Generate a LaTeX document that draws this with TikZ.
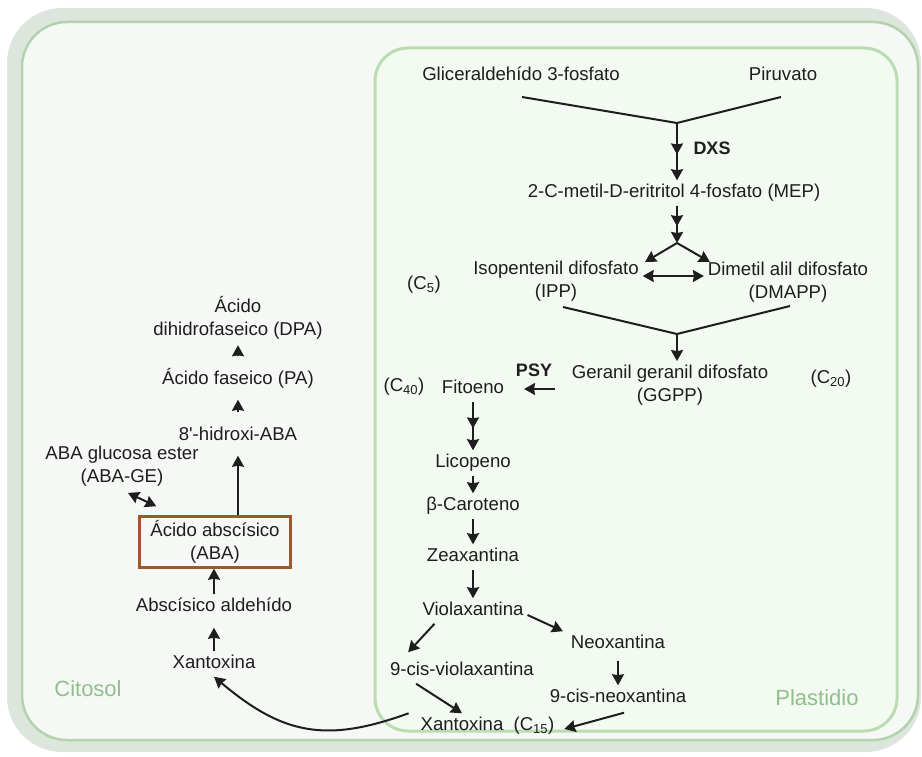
\documentclass[tikz,border=0pt]{standalone}
\usepackage{fontspec}
\setmainfont{Liberation Sans}
\usetikzlibrary{
    arrows.meta,            % Stealth arrow tips.
    decorations.markings,   % Second arrow tip in the middle of a line.
    positioning
}
\definecolor{bandgreen}{HTML}{DCE6DC}
\definecolor{cytofill}{HTML}{F6F8F6}
\definecolor{cytoline}{HTML}{B3D3AE}
\definecolor{plastfill}{HTML}{F3FAF1}
\definecolor{plastline}{HTML}{BBDCB1}
\definecolor{zonetext}{HTML}{8FC08B}
\definecolor{ababrown}{HTML}{9C5A2A}
\definecolor{inktext}{HTML}{1E1E1E}
\newcommand{\molsize}{\fontsize{18.6}{22.5}\selectfont}
\newcommand{\enzsize}{\fontsize{18}{21}\selectfont\bfseries}
\newcommand{\zonesize}{\fontsize{22}{26}\selectfont}
\tikzset{
    mol/.style={align=center, inner sep=3pt, font=\molsize, text=inktext},
    molone/.style={mol, text height=13.5pt, text depth=4pt},
    enz/.style={inner sep=0pt, font=\enzsize, text=inktext},
    zone/.style={inner sep=0pt, font=\zonesize, text=zonetext},
    ababox/.style={draw=ababrown, line width=2.5pt, minimum width=151pt, minimum height=51pt},
    twohead/.style={->, postaction={decorate},
        decoration={markings, mark=at position 0.55 with {\arrow{>}}}}
}

\begin{document}
\begin{tikzpicture}[x=1pt, y=-1pt, >={Stealth[length=11pt, width=12pt, inset=1pt]},
        line width=2pt, draw=inktext]
    \useasboundingbox (0,0) rectangle (922,757);
    % cell compartments
    \fill[bandgreen, rounded corners=55pt] (7,8) rectangle (921,752);
    \draw[cytoline, fill=cytofill, line width=2.5pt, rounded corners=45pt]
        (22,22) rectangle (918,740);
    \draw[plastline, fill=plastfill, line width=3pt, rounded corners=33pt]
        (375,48) rectangle (897,731);
    \node[zone] at (817,698) {Plastidio};
    \node[zone] at (88,689) {Citosol};

    % plastid (MEP pathway and carotenoids)
    \node[molone] (gap) at (521,76) {Gliceraldehído 3-fosfato};
    \node[molone] (pir) at (783,76) {Piruvato};
    \node[enz] (dxs) at (712,148) {DXS};
    \node[molone] (mep) at (674,193) {2-C-metil-D-eritritol 4-fosfato (MEP)};
    \node[mol] (ipp) at (556,281) {Isopentenil difosfato\\(IPP)};
    \node[mol] (dmapp) at (788,282) {Dimetil alil difosfato\\(DMAPP)};
    \node[molone] (c5) at (424,285) {(C\textsubscript{5})};
    \node[mol] (ggpp) at (670,385) {Geranil geranil difosfato\\(GGPP)};
    \node[molone] (c20) at (831,379) {(C\textsubscript{20})};
    \node[enz] (psy) at (534,370) {PSY};
    \node[molone] (fit) at (473,389) {Fitoeno};
    \node[molone] (c40) at (404,387) {(C\textsubscript{40})};
    \node[molone] (lic) at (473,463) {Licopeno};
    \node[molone] (bcar) at (473,506) {β-Caroteno};
    \node[molone] (zea) at (473,557) {Zeaxantina};
    \node[molone] (vio) at (473,611) {Violaxantina};
    \node[molone] (neo) at (618,644) {Neoxantina};
    \node[molone] (cvio) at (462,671) {9-cis-violaxantina};
    \node[molone] (cneo) at (618,698) {9-cis-neoxantina};
    \node[molone] (xanp) at (462,726) {Xantoxina};
    \node[molone] (c15) at (534,726) {(C\textsubscript{15})};

    \coordinate (v1a) at (522,97);
    \coordinate (v1b) at (781,97);
    \coordinate (j1) at (677,123);
    \coordinate (j2) at (677,243);
    \coordinate (k1) at (645,262);
    \coordinate (k2) at (710,262);
    \coordinate (v2a) at (563,307);
    \coordinate (v2b) at (790,306);
    \coordinate (j3) at (677,334);

    \draw (v1a) -- (j1) -- (v1b);
    \draw[twohead] (j1) -- (j1 |- mep.north);
    \draw[twohead] (mep.south -| j2) -- (j2);
    \draw[->] (j2) -- (k1);
    \draw[->] (j2) -- (k2);
    \draw[<->] ([yshift=5pt]ipp.east) -- ([yshift=5pt]ipp.east -| dmapp.west);
    \draw (v2a) -- (j3) -- (v2b);
    \draw[->] (j3) -- (j3 |- ggpp.north);
    \draw[->, shorten <=13pt, shorten >=16pt] (ggpp.west |- fit.east) -- (fit.east);
    \draw[twohead] (fit) -- (lic);
    \draw[->] (lic) -- (bcar);
    \draw[->] (bcar) -- (zea);
    \draw[->] (zea) -- (vio);
    \draw[->] ([yshift=-4pt]vio.east) -- ([xshift=-4pt]neo.north west);
    \draw[->] ([xshift=16pt]vio.south west) -- ([xshift=22pt,yshift=6pt]cvio.north west);
    \draw[->, shorten <=4pt] (neo) -- (cneo);
    \draw[->] ([xshift=30pt]cvio.south west) -- (xanp.north);
    \draw[->] ([xshift=6pt,yshift=-2pt]cneo.south) -- ([xshift=6pt,yshift=-3pt]c15.east);

    % cytosol (ABA synthesis and catabolism)
    \node[mol] (dpa) at (238,318) {Ácido\\dihidrofaseico (DPA)};
    \node[molone] (pa) at (238,380) {Ácido faseico (PA)};
    \node[molone] (hid) at (238,436) {8\textquotesingle-hidroxi-ABA};
    \node[mol] (abge) at (122,466) {ABA glucosa ester\\(ABA-GE)};
    \node[mol, ababox] (aba) at (215,542) {Ácido abscísico\\(ABA)};
    \node[molone] (ald) at (214,607) {Abscísico aldehído};
    \node[molone] (xanc) at (214,664) {Xantoxina};

    \draw[->, shorten >=8pt] (xanc) -- (ald);
    \draw[->] (ald.north) -- (ald.north |- aba.south);
    \draw[->, shorten >=7pt] (aba.north -| hid) -- (hid);
    \draw[->, shorten <=11pt, shorten >=7pt] (hid) -- (pa);
    \draw[->, shorten <=11pt, shorten >=2pt] (pa) -- (dpa);
    \draw[<->] ([xshift=6pt,yshift=-3pt]abge.south) -- ([xshift=18pt,yshift=9pt]aba.north west);

    % export of xanthoxin to the cytosol
    \draw[->] ([xshift=-8pt]xanp.north west) to[out=200, in=-40, looseness=1.15] (xanc.south);
\end{tikzpicture}
\end{document}
